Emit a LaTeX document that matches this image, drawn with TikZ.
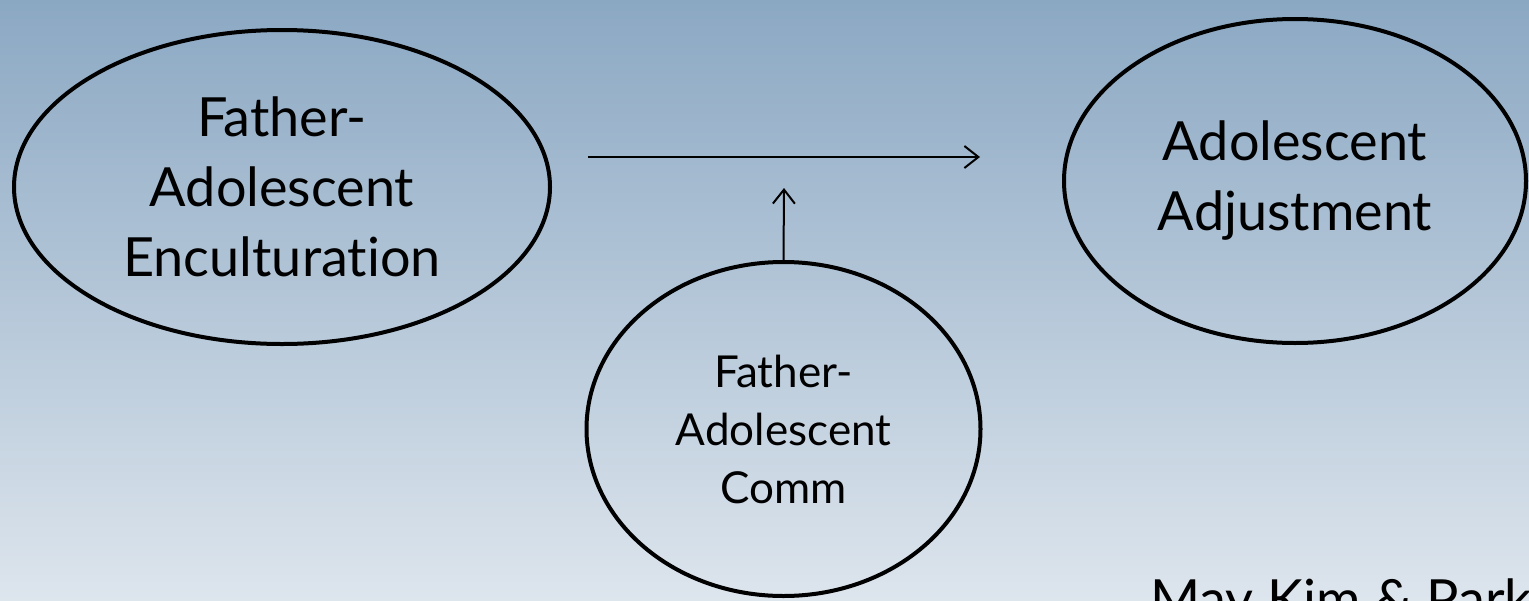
\documentclass[tikz,border=0pt]{standalone}
\usepackage{fontspec}
\setmainfont{Lato}[Ligatures={NoCommon,NoRare}]
\usetikzlibrary{shapes.geometric,arrows.meta}
\definecolor{bgtop}{HTML}{8BA8C3}
\definecolor{bgbot}{HTML}{DDE5ED}
\tikzset{
  oval/.style={ellipse, draw=black, line width=4pt, inner sep=0pt, align=center, text=black},
  bigtxt/.style={font=\fontsize{54}{70}\selectfont},
  smalltxt/.style={font=\fontsize{44}{58}\selectfont},
  conn/.style={line width=2pt, -{Straight Barb[length=14pt,width=22pt,line width=2pt]}}
}
\begin{document}
\begin{tikzpicture}[x=1pt,y=1pt]
\useasboundingbox (0,0) rectangle (1529,-600);
\clip (0,0) rectangle (1529,-600);
\shade[top color=bgtop, bottom color=bgbot] (0,0) rectangle (1529,-600);
\node[oval, bigtxt, minimum width=536pt, minimum height=314pt] (enc) at (282,-187) {Father-\\Adolescent\\Encul\kern0pt turation};
\node[oval, bigtxt, minimum width=462pt, minimum height=324pt] (adj) at (1295,-181) {Adolescent\\Adjustment};
\node[oval, smalltxt, minimum width=394pt, minimum height=334pt] (comm) at (783.5,-429) {Father-\\Adolescent\\Comm};
\coordinate (hs) at (588,-157);
\coordinate (he) at (980,-157);
\coordinate (ve) at (784,-188);
\draw[conn] (hs) -- (he);
\draw[conn] (comm.north) -- (ve);
\node[bigtxt, anchor=base west, inner sep=0pt] (cite) at (1150,-618) {May Kim \& Park};
\end{tikzpicture}
\end{document}
